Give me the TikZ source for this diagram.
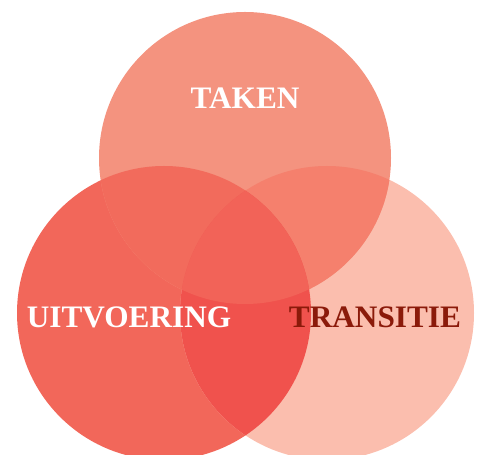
\documentclass[tikz,border=0pt]{standalone}
\usepackage{fontspec}
\setmainfont{Liberation Serif}
\usepackage{xcolor}

\definecolor{takenred}{HTML}{F4937F}
\definecolor{uitvred}{HTML}{F2675A}
\definecolor{transred}{HTML}{FBBEAE}
\definecolor{tuoverlap}{HTML}{F26B5C}
\definecolor{ttoverlap}{HTML}{F5806D}
\definecolor{utoverlap}{HTML}{F0524D}
\definecolor{midoverlap}{HTML}{F26358}
\definecolor{darktext}{HTML}{8B1A0A}

\def\circtop{(245,158) circle (146)}
\def\circleft{(164,313) circle (147)}
\def\circright{(327,313) circle (147)}

\begin{document}
\begin{tikzpicture}[
  x=0.02cm,y=-0.02cm,
  venntext/.style={font=\fontsize{17.8}{20}\selectfont\bfseries, inner sep=0pt}
]
\useasboundingbox (0,0) rectangle (480,455);

% the three sets
\fill[uitvred] \circleft;
\fill[transred] \circright;
\fill[takenred] \circtop;

% overlaps
\begin{scope}
  \clip \circtop;
  \fill[tuoverlap] \circleft;
  \fill[ttoverlap] \circright;
\end{scope}
\begin{scope}
  \clip \circleft;
  \fill[utoverlap] \circright;
\end{scope}
\begin{scope}
  \clip \circtop;
  \clip \circleft;
  \fill[midoverlap] \circright;
\end{scope}

\node[venntext, text=white] (taken) at (245,98) {TAKEN};
\node[venntext, text=white] (uitvoering) at (129,317) {UITVOERING};
\node[venntext, text=darktext] (transitie) at (375,317) {TRANSITIE};
\end{tikzpicture}
\end{document}
